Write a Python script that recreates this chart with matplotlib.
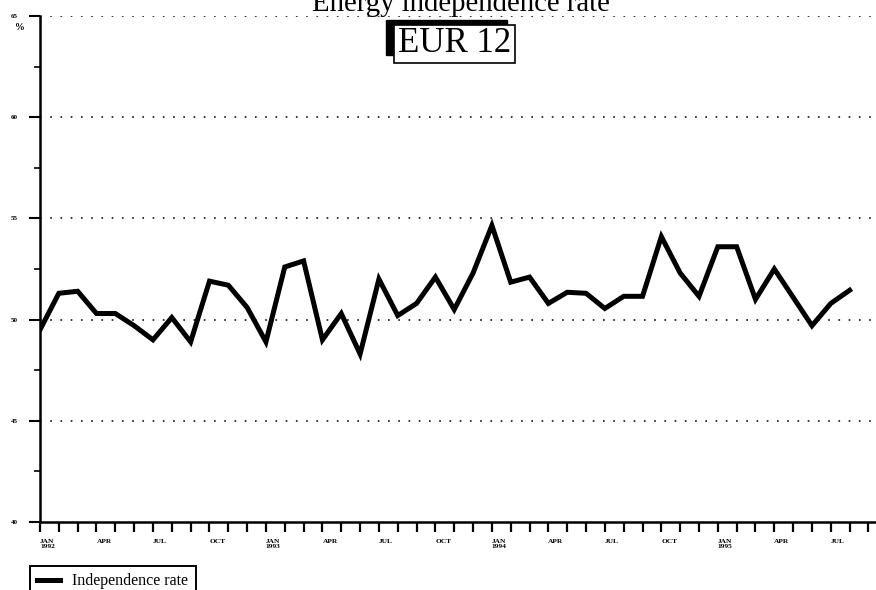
import numpy as np
import matplotlib
matplotlib.use("Agg")
import matplotlib.pyplot as plt
from matplotlib.lines import Line2D
from matplotlib.patches import Rectangle

plt.rcParams['font.family'] = ['Liberation Serif', 'DejaVu Serif']

# monthly independence rate, Jan 1992 .. Aug 1995 (%)
rate = [49.5, 51.3, 51.4, 50.3, 50.3, 49.7, 49.0, 50.1, 48.9, 51.9,
        51.7, 50.6, 48.9, 52.6, 52.9, 49.0, 50.3, 48.3, 52.0, 50.2,
        50.8, 52.1, 50.5, 52.3, 54.65, 51.85, 52.1, 50.8, 51.35, 51.3,
        50.55, 51.15, 51.15, 54.1, 52.3, 51.15, 53.6, 53.6, 51.0, 52.5,
        51.1, 49.7, 50.8, 51.45]
quarter_labels = ["JAN\n1992", "APR", "JUL", "OCT",
                  "JAN\n1993", "APR", "JUL", "OCT",
                  "JAN\n1994", "APR", "JUL", "OCT",
                  "JAN\n1995", "APR", "JUL"]
y_ticks = [40, 45, 50, 55, 60, 65]

W, H = 876, 590
fig = plt.figure(figsize=(W / 100, H / 100), dpi=100)
ax = fig.add_axes([40 / W, 1 - 522 / H, 1 - 40 / W, (522 - 16) / H])

months = np.arange(len(rate))
ax.plot(months, rate, color='black', lw=3.6, solid_joinstyle='miter')

ax.set_xlim(0, 44.4)
ax.set_ylim(40, 65)

# dotted horizontal grid
for v in y_ticks[1:]:
    ax.axhline(v, color='black', lw=1.1, ls=(0, (1.1, 5.6)), zorder=0)

# x ticks: every month, labels on quarters
ax.set_xticks(np.arange(45))
labels = [""] * 45
for i, lab in enumerate(quarter_labels):
    labels[i * 3] = lab
ax.set_xticklabels(labels, fontsize=5.3, fontweight='bold', ha='left')
ax.tick_params(axis='x', direction='out', length=7, width=1.6, pad=5)

ax.set_yticks(y_ticks)
ax.set_yticklabels([str(v) for v in y_ticks], fontsize=5, fontweight='bold')
ax.set_yticks(np.arange(42.5, 65, 5), minor=True)
ax.tick_params(axis='y', which='major', direction='out', length=8, width=1.5, pad=8)
ax.tick_params(axis='y', which='minor', direction='out', length=4, width=1.2)

for s in ['top', 'right']:
    ax.spines[s].set_visible(False)
ax.spines['left'].set_linewidth(1.8)
ax.spines['bottom'].set_linewidth(1.8)

fig.text(20 / W, 1 - 28 / H, "%", fontsize=7, fontweight='bold', ha='center', va='center')

# title (partly cut at the top like the scan)
fig.text(461 / W, 1 - 11 / H, "Energy independence rate", fontsize=20.7,
         ha='center', va='baseline')

# EUR 12 box with shadow
fig.patches.append(Rectangle((386 / W, 1 - 55 / H), 121 / W, 35 / H,
                             transform=fig.transFigure, facecolor='black',
                             edgecolor='black', zorder=5))
fig.patches.append(Rectangle((394 / W, 1 - 63 / H), 121 / W, 38 / H,
                             transform=fig.transFigure, facecolor='white',
                             edgecolor='black', lw=1.2, zorder=6))
fig.text(454.5 / W, 1 - 44 / H, "EUR 12", fontsize=25, ha='center', va='center', zorder=7)

handle = Line2D([], [], color='black', lw=3.6)
leg = fig.legend([handle], ["Independence rate"], loc='upper left',
                 bbox_to_anchor=(30 / W, 1 - 566 / H), fontsize=11.5,
                 handlelength=1.45, handletextpad=0.75, borderpad=0.45,
                 borderaxespad=0, fancybox=False, framealpha=1, edgecolor='black')
leg.get_frame().set_linewidth(1.4)

fig.savefig("out.png", dpi=100)
